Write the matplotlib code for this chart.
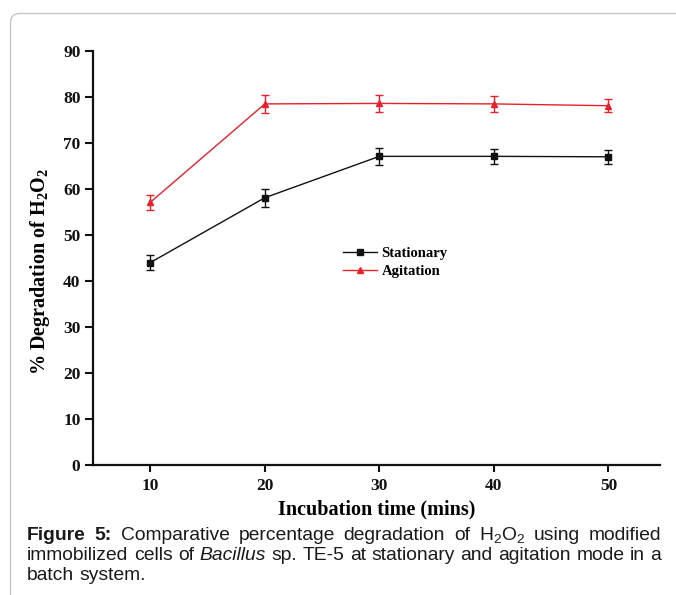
import matplotlib
matplotlib.use("Agg")
import matplotlib.pyplot as plt
from matplotlib.patches import FancyBboxPatch
from matplotlib.transforms import IdentityTransform

# ---------------- data ----------------
time_min = [10, 20, 30, 40, 50]
stationary = [44.0, 58.1, 67.1, 67.1, 67.0]
stationary_err = [1.7, 2.0, 1.9, 1.7, 1.5]
agitation = [57.1, 78.5, 78.6, 78.5, 78.1]
agitation_err = [1.7, 2.0, 1.85, 1.75, 1.45]
x_ticks = [10, 20, 30, 40, 50]
y_ticks = [0, 10, 20, 30, 40, 50, 60, 70, 80, 90]
series_labels = ["Stationary", "Agitation"]

SERIF = "Liberation Serif"
SANS = "Liberation Sans"
plt.rcParams["font.family"] = [SERIF, "DejaVu Sans"]
plt.rcParams["font.weight"] = "bold"
plt.rcParams["mathtext.default"] = "regular"

W, H = 676, 595
fig = plt.figure(figsize=(W / 100, H / 100), dpi=100)
fig.patch.set_facecolor("white")

# rounded frame of the figure panel
frame = FancyBboxPatch((10.5, -40), 900, H - 13.5 + 40,
                       boxstyle="round,pad=0,rounding_size=9",
                       transform=IdentityTransform(), fill=False,
                       ec="#c6c6c6", lw=1.0)
fig.add_artist(frame)

ax = fig.add_axes([93 / W, 1 - 465 / H, (660 - 93) / W, (465 - 51) / H])
black = "#111111"
red = "#e8202a"

ax.errorbar(time_min, stationary, yerr=stationary_err, fmt="none",
            ecolor=black, elinewidth=1.0, capsize=3, capthick=1.0, zorder=2)
ax.errorbar(time_min, agitation, yerr=agitation_err, fmt="none",
            ecolor=red, elinewidth=1.0, capsize=3, capthick=1.0, zorder=2)
ax.plot(time_min, stationary, color=black, lw=1.0, marker="s",
        markersize=4, label=series_labels[0], zorder=3)
ax.plot(time_min, agitation, color=red, lw=1.0, marker="^",
        markersize=4.5, label=series_labels[1], zorder=3)

ax.set_xlim(5, 54.5)
ax.set_ylim(0, 90)
ax.set_xticks(x_ticks)
ax.set_yticks(y_ticks)
for s in ["top", "right"]:
    ax.spines[s].set_visible(False)
for s in ["left", "bottom"]:
    ax.spines[s].set_linewidth(1.6)
    ax.spines[s].set_color(black)
ax.tick_params(axis="y", direction="out", length=6, width=1.5, pad=3,
               labelsize=12.5, colors=black)
ax.tick_params(axis="x", direction="out", length=5, width=1.5, pad=4,
               labelsize=12.5, colors=black)
for lbl in ax.get_xticklabels() + ax.get_yticklabels():
    lbl.set_fontweight("bold")

ax.set_xlabel("Incubation time (mins)", fontsize=14.5, fontweight="bold",
              va="center")
ax.xaxis.set_label_coords(0.5, (465 - 509) / 414)
ax.set_ylabel("% Degradation of H$_2$O$_2$", fontsize=14.5,
              fontweight="bold", va="center")
ax.yaxis.set_label_coords((40 - 93) / 567, (465 - 271) / 414)

leg = ax.legend(loc="center left", frameon=False, fontsize=10.5,
                prop={"family": SERIF, "weight": "bold", "size": 10.5},
                bbox_to_anchor=(343 / W, 1 - 262.5 / H),
                bbox_transform=fig.transFigure, borderpad=0,
                borderaxespad=0, handlelength=2.3, handletextpad=0.35,
                labelspacing=0.3)

# ---------------- caption (justified) ----------------
renderer = fig.canvas.get_renderer()
LEFT, RIGHT = 27, 661

line1 = [("Figure", "bold", "normal"), ("5:", "bold", "normal"),
         ("Comparative", "normal", "normal"), ("percentage", "normal", "normal"),
         ("degradation", "normal", "normal"), ("of", "normal", "normal"),
         ("H$_2$O$_2$", "normal", "normal"), ("using", "normal", "normal"),
         ("modified", "normal", "normal")]
line2 = [(w, "normal", "normal") for w in "immobilized cells of".split()] + \
        [("Bacillus", "normal", "italic")] + \
        [(w, "normal", "normal") for w in
         "sp. TE-5 at stationary and agitation mode in a".split()]
line3 = [(w, "normal", "normal") for w in "batch system.".split()]


def make_words(words, size):
    ts = []
    for w, wt, st in words:
        t = fig.text(0, 0, w, fontsize=size, family=[SANS, "DejaVu Sans"],
                     weight=wt, style=st, transform=IdentityTransform(),
                     va="baseline", ha="left", color="#1a1a1a")
        ts.append(t)
    return ts


def space_width(size):
    a = fig.text(0, 0, "n n", fontsize=size, family=SANS, weight="normal")
    b = fig.text(0, 0, "nn", fontsize=size, family=SANS, weight="normal")
    d = a.get_window_extent(renderer).width - b.get_window_extent(renderer).width
    a.remove()
    b.remove()
    return d


# fit caption size so that line 2 fills the text width with natural spacing
base = 12.0
probe = make_words(line2, base)
wsum = sum(t.get_window_extent(renderer).width for t in probe)
natural = wsum + space_width(base) * (len(probe) - 1)
for t in probe:
    t.remove()
csize = base * (RIGHT - LEFT) / natural


def place(words, baseline_px, justify):
    ts = make_words(words, csize)
    widths = [t.get_window_extent(renderer).width for t in ts]
    if justify and len(ts) > 1:
        gap = (RIGHT - LEFT - sum(widths)) / (len(ts) - 1)
    else:
        gap = space_width(csize)
    x = LEFT
    for t, w in zip(ts, widths):
        t.set_position((x, H - baseline_px))
        x += w + gap


place(line1, 540, True)
place(line2, 560, True)
place(line3, 580, False)

fig.savefig("out.png", dpi=100, facecolor="white")
